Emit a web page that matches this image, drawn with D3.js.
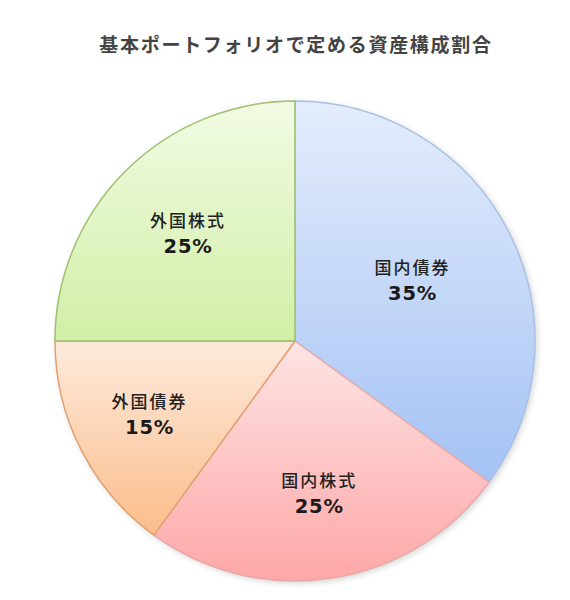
<!DOCTYPE html>
<html><head><meta charset="utf-8">
<script src="https://cdn.jsdelivr.net/npm/d3@7"></script>
<style>body{margin:0;background:#fff;} svg{display:block;}</style>
</head><body>
<script>
const title = "基本ポートフォリオで定める資産構成割合";
const categories = ["国内債券", "国内株式", "外国債券", "外国株式"];
const shares = [35, 25, 15, 25];
const percentLabels = ["35%", "25%", "15%", "25%"];

// styling (not data)
const topColors = ["#e4edfc", "#fde4e4", "#fdeadc", "#f2fbe4"];
const bottomColors = ["#a4c2f4", "#ffa7a7", "#fbbd8a", "#d1efa6"];
const strokeColors = ["#a9c0e6", "#e8a8a8", "#e3a06e", "#9fc06c"];
const labelRadiusFrac = [0.55, 0.645, 0.68, 0.63];

const W = 570, H = 600, cx = 295, cy = 341, R = 240;
const svg = d3.select("body").append("svg").attr("width", W).attr("height", H);
const defs = svg.append("defs");
const f = defs.append("filter").attr("id", "sh").attr("x", "-10%").attr("y", "-10%").attr("width", "120%").attr("height", "120%");
f.append("feDropShadow").attr("dx", 2).attr("dy", 2).attr("stdDeviation", 3).attr("flood-color", "#000").attr("flood-opacity", 0.18);

categories.forEach((c, i) => {
  const g = defs.append("linearGradient").attr("id", "g" + i).attr("x1", 0).attr("y1", 0).attr("x2", 0).attr("y2", 1);
  g.append("stop").attr("offset", "0%").attr("stop-color", topColors[i]);
  g.append("stop").attr("offset", "100%").attr("stop-color", bottomColors[i]);
});

svg.append("text").attr("x", 296).attr("y", 52).attr("text-anchor", "middle")
  .attr("font-family", "'Noto Sans CJK JP', sans-serif").attr("font-size", 19).attr("font-weight", 700)
  .attr("letter-spacing", 1.7).attr("fill", "#444").text(title);

const pie = d3.pie().sort(null).value(d => d)(shares);
const arc = d3.arc().innerRadius(0).outerRadius(R);
const g = svg.append("g").attr("transform", `translate(${cx},${cy})`);
g.append("circle").attr("r", R).attr("fill", "#fff").attr("filter", "url(#sh)");
g.selectAll("path.s").data(pie).join("path").attr("class", "s")
  .attr("d", arc).attr("fill", (d, i) => `url(#g${i})`)
  .attr("stroke", (d, i) => strokeColors[i]).attr("stroke-width", 1.5).attr("stroke-linejoin", "round");

const lab = g.selectAll("g.l").data(pie).join("g").attr("class", "l")
  .attr("transform", (d, i) => {
    const a = d3.arc().innerRadius(R * labelRadiusFrac[i]).outerRadius(R * labelRadiusFrac[i]);
    const [x, y] = a.centroid(d);
    return `translate(${x},${y})`;
  });
lab.append("text").attr("y", -7).attr("text-anchor", "middle")
  .attr("font-family", "'Noto Sans CJK JP', sans-serif").attr("font-size", 17).attr("font-weight", 500)
  .attr("letter-spacing", 2).attr("fill", "#222").text((d, i) => categories[i]);
lab.append("text").attr("y", 19).attr("text-anchor", "middle")
  .attr("font-family", "'DejaVu Sans', sans-serif").attr("font-size", 19.5).attr("font-weight", 700)
  .attr("letter-spacing", 0.8).attr("fill", "#1a1a1a").text((d, i) => percentLabels[i]);
</script>
</body></html>
